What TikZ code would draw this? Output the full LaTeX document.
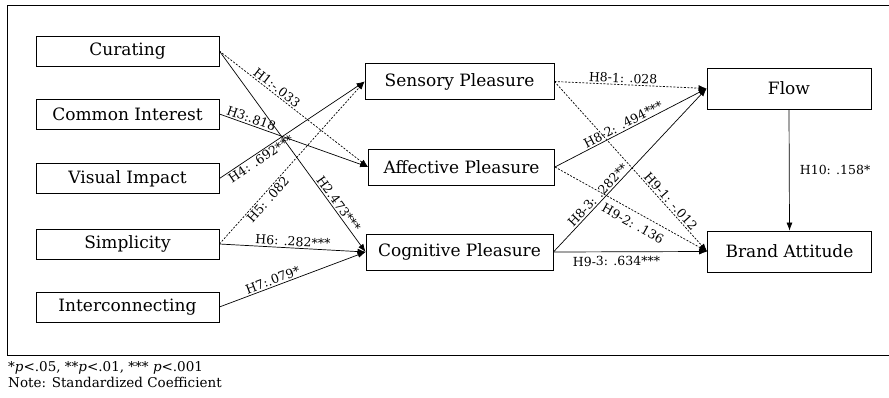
\documentclass[tikz,border=0pt]{standalone}
\usepackage{fontspec}
\setmainfont{DejaVu Serif}
\usetikzlibrary{arrows.meta,positioning}

\begin{document}
\begin{tikzpicture}[x=1pt,y=-1pt,
    var/.style={draw,line width=0.8pt,inner sep=0pt,font=\fontsize{17}{19}\selectfont},
    invar/.style={var,minimum width=183pt,minimum height=30pt},
    midvar/.style={var,minimum width=189pt,minimum height=36pt},
    outvar/.style={var,minimum width=164pt,minimum height=41pt},
    arr/.style={line width=0.7pt,-{Latex[length=8pt,width=6pt]}},
    ns/.style={dash pattern=on 2pt off 1.5pt},
    coef/.style={font=\fontsize{12.5}{14}\selectfont,sloped,inner sep=1.5pt}]
    \useasboundingbox (0,0) rectangle (889,397);
    \draw[line width=0.8pt] (890,5) -- (7,5) -- (7,355) -- (890,355);

    % exogenous
    \path
    (127.5,51) node[invar] (cur) {Curating}
    (127.5,114) node[invar] (com) {Common Interest}
    (127.5,178.5) node[invar] (vis) {Visual Impact}
    (127.5,244) node[invar] (sim) {Simplicity}
    (127.5,307) node[invar] (int) {Interconnecting}
    ;

    % pleasure
    \path
    (459.5,81.5) node[midvar] (sen) {Sensory Pleasure}
    (461.5,167) node[midvar,minimum width=186pt] (aff) {Affective Pleasure}
    (459.5,252) node[midvar,minimum width=187pt] (cog) {Cognitive Pleasure}
    ;

    % outcomes
    \path
    (789,88.5) node[outvar] (flo) {Flow}
    (789.5,251.5) node[outvar] (bra) {Brand Attitude}
    ;

    \draw[arr,ns] (cur.east) -- node[coef,pos=0.36,above] {H1:-.033} (aff.west);
    \draw[arr] (cur.east) -- node[coef,pos=0.78,above] {H2.473***} (cog.west);
    \draw[arr] (com.east) -- node[coef,pos=0.2,above] {H3:.818} (aff.west);
    \draw[arr] (vis.east) -- node[coef,pos=0.26,below] {H4: .692***} (sen.west);
    \draw[arr,ns] (sim.east) -- node[coef,pos=0.3,below] {H5: .082} (sen.west);
    \draw[arr] (sim.east) -- node[coef,pos=0.5,above] {H6: .282***} (cog.west);
    \draw[arr] (int.east) -- node[coef,pos=0.38,above] {H7:.079*} (cog.west);

    \draw[arr,ns] (sen.east) -- node[coef,pos=0.45,above] {H8-1: .028} (flo.west);
    \draw[arr] (aff.east) -- node[coef,pos=0.47,above] {H8-2: .494***} (flo.west);
    \draw[arr] (cog.east) -- node[coef,pos=0.32,above] {H8-3: .282**} (flo.west);
    \draw[arr,ns] (sen.east) -- node[coef,pos=0.73,above] {H9-1: -.012} (bra.west);
    \draw[arr,ns] (aff.east) -- node[coef,pos=0.55,below=5pt] {H9-2: .136} (bra.west);
    \draw[arr] (cog.east) -- node[coef,pos=0.41,below=3pt] {H9-3: .634***} (bra.west);
    \draw[arr] (flo.south) -- node[right=7pt,font=\fontsize{12.5}{14}\selectfont] {H10: .158*} (bra.north);

    % note
    \path
    (8,368) node[anchor=west,inner sep=0pt,font=\fontsize{13.5}{14}\selectfont] (sig) {*\textit{p}<.05, **\textit{p}<.01, *** \textit{p}<.001}
    (8,382) node[anchor=west,inner sep=0pt,font=\fontsize{13.5}{14}\selectfont] (note) {Note: Standardized Coefficient}
    ;
\end{tikzpicture}
\end{document}
